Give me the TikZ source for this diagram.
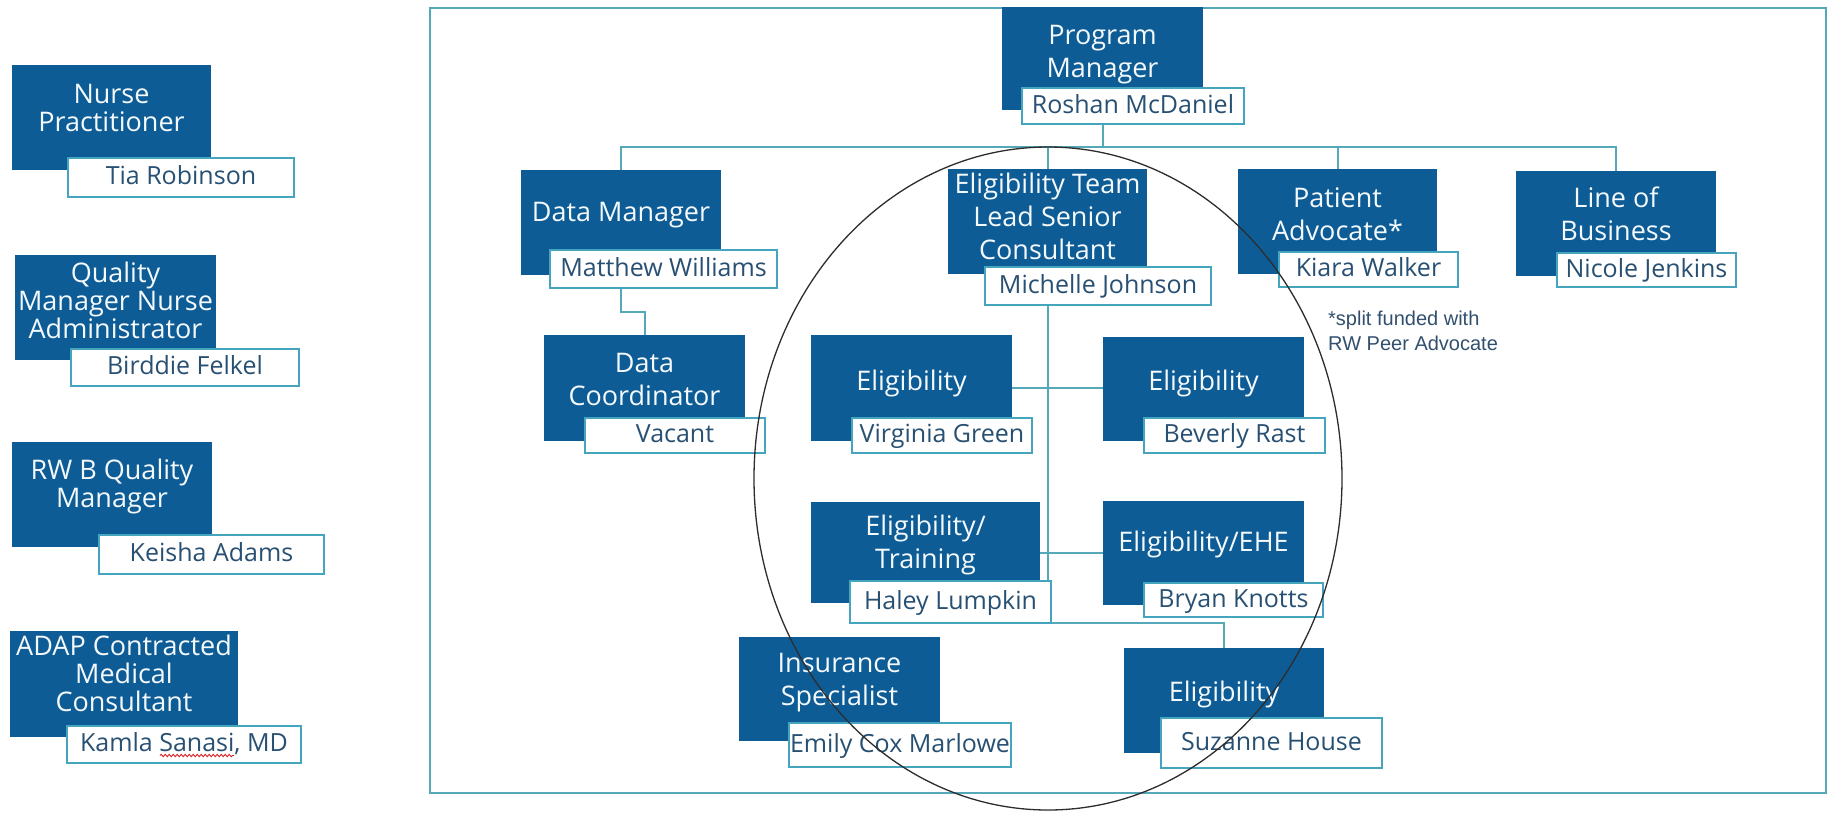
\documentclass[tikz,border=0pt]{standalone}
\usepackage{fontspec}
\usetikzlibrary{decorations.pathmorphing}
\setmainfont{Open Sans}
\newfontfamily\notefont{Liberation Sans}
\definecolor{ofBlue}{RGB}{14,92,150}
\definecolor{ofBorder}{RGB}{70,165,190}
\definecolor{ofLine}{RGB}{84,168,184}
\definecolor{ofName}{RGB}{40,80,115}
\definecolor{ofTitle}{RGB}{244,249,252}
\definecolor{ofNote}{RGB}{50,80,110}
\definecolor{ofEll}{RGB}{45,45,45}
\definecolor{ofSpell}{RGB}{215,40,40}
\pgfdeclarelayer{back}
\pgfdeclarelayer{bg}
\pgfsetlayers{back,bg,main}
\tikzset{
  bbox/.style={fill=ofBlue, draw=none, inner sep=0pt},
  btitle/.style={text=ofTitle, align=center, inner sep=0pt, font=\fontsize{27}{33}\selectfont},
  btitleL/.style={text=ofTitle, align=center, inner sep=0pt, font=\fontsize{27}{28}\selectfont},
  wbox/.style={fill=white, draw=ofBorder, line width=2pt, inner sep=0pt, text=ofName,
     font=\fontsize{25}{28}\selectfont, text height=18pt, text depth=4pt},
  conn/.style={draw=ofLine, line width=2pt},
  frameline/.style={draw=ofLine, line width=2pt},
  grpline/.style={draw=ofEll, line width=1.3pt},
  spellmark/.style={draw=ofSpell, line width=0.9pt, decorate,
     decoration={snake, amplitude=1.2pt, segment length=4pt}},
  notetext/.style={text=ofNote, align=left, inner sep=0pt, font=\notefont\fontsize{20}{25}\selectfont}
}
\newcommand{\orgunit}[8][btitle]{%
  \node[bbox, anchor=north west, minimum width={(#5-#3)*1pt}, minimum height={(#6-#4)*1pt}] (#2) at (#3,#4) {};
  \node[#1] (#2-t) at ({(#3+#5)/2},#8) {#7};
}
\newcommand{\orgname}[6]{%
  \node[wbox, anchor=north west, minimum width={(#4-#2)*1pt}, minimum height={(#5-#3)*1pt}] (#1) at (#2,#3) {#6};
}
\begin{document}
\begin{tikzpicture}[x=1pt,y=-1pt]
\useasboundingbox (0,0) rectangle (1829,812);
\begin{pgfonlayer}{back}
\fill[white] (0,0) rectangle (1829,812);
\end{pgfonlayer}

% left column
\orgunit[btitleL]{np}{12}{65}{211}{170}{Nurse\\Practitioner}{108}
\orgname{npN}{67}{157}{293}{196}{Tia Robinson}
\orgunit[btitleL]{qm}{15}{255}{216}{360}{Quality\\Manager Nurse\\Administrator}{300}
\orgname{qmN}{70}{348}{298}{385}{Birddie Felkel}
\orgunit[btitleL]{rw}{12}{442}{212}{547}{RW B Quality\\Manager}{486}
\orgname{rwN}{98}{534}{323}{573}{Keisha Adams}
\orgunit[btitleL]{adap}{10}{631}{238}{737}{ADAP Contracted\\Medical\\Consultant}{673}
\orgname{adapN}{66}{725}{300}{762}{Kamla Sanasi, MD}

% main chart
\orgunit{pm}{1002}{7}{1203}{110}{Program\\Manager}{55}
\orgname{pmN}{1021}{87}{1243}{123}{Roshan McDaniel}
\orgunit{dm}{521}{170}{721}{275}{Data Manager}{215}
\orgname{dmN}{549}{249}{776}{287}{Matthew Williams}
\orgunit{et}{948}{169}{1147}{274}{Eligibility Team\\Lead Senior\\Consultant}{216}
\orgname{etN}{984}{266}{1210}{304}{Michelle Johnson}
\orgunit{pa}{1238}{169}{1437}{274}{Patient\\Advocate*}{214}
\orgname{paN}{1278}{251}{1457}{286}{Kiara Walker}
\orgunit{lob}{1516}{171}{1716}{276}{Line of\\Business}{214}
\orgname{lobN}{1556}{252}{1735}{286}{Nicole Jenkins}
\orgunit{dc}{544}{335}{745}{441}{Data\\Coordinator}{379}
\orgname{dcN}{584}{417}{764}{452}{Vacant}
\orgunit{ea}{811}{335}{1012}{441}{Eligibility}{383}
\orgname{eaN}{851}{417}{1031}{452}{Virginia Green}
\orgunit{eb}{1103}{337}{1304}{441}{Eligibility}{383}
\orgname{ebN}{1143}{417}{1324}{452}{Beverly Rast}
\orgunit{etr}{811}{502}{1040}{603}{Eligibility/\\Training}{545}
\orgname{etrN}{849}{580}{1050}{622}{Haley Lumpkin}
\orgunit{ehe}{1103}{501}{1304}{605}{Eligibility/EHE}{544}
\orgname{eheN}{1143}{582}{1322}{616}{Bryan Knotts}
\orgunit{ins}{739}{637}{940}{741}{Insurance\\Specialist}{683}
\orgname{insN}{788}{722}{1010}{766}{Emily Cox Marlowe}
\orgunit{ec}{1124}{648}{1324}{753}{Eligibility}{694}
\orgname{ecN}{1160}{717}{1381}{767}{Suzanne House}

% connectors and frame
\begin{pgfonlayer}{bg}
\draw[frameline] (430,8) rectangle (1826,793);
\draw[conn] (pm.south) -- ++(0,37) coordinate (bus);
\draw[conn] (dm.north) |- (bus);
\draw[conn] (lob.north) |- (bus);
\draw[conn] (et.north) -- (et.north |- bus);
\draw[conn] (pa.north) -- (pa.north |- bus);
\draw[conn] (dm.south) -- ++(0,37) -| (dc.north);
\draw[conn] (et.south) -- ++(0,349) -| (ec.north);
\draw[conn] (ea.east) -- (ea.east -| eb.west);
\draw[conn] (etr.east) -- (etr.east -| ehe.west);
\end{pgfonlayer}

% spelling mark under "Sanasi"
\draw[spellmark] ([xshift=-24pt,yshift=-11pt]adapN.center) -- ([xshift=50pt,yshift=-11pt]adapN.center);

% group ellipse
\draw[grpline] (1048,478.5) ellipse [x radius=294pt, y radius=331.5pt];

% note
\node[notetext, anchor=north west] (note) at (1328,311) {*split funded with\\RW Peer Advocate};
\end{tikzpicture}
\end{document}
